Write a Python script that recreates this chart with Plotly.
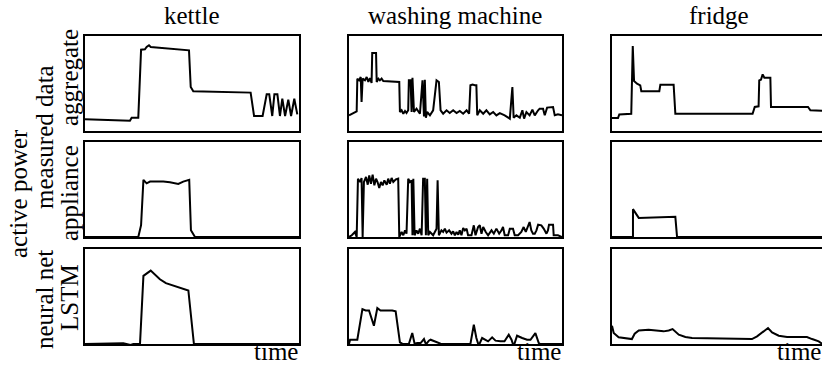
import plotly.graph_objects as go

W, H = 822, 367

col_titles = ["kettle", "washing machine", "fridge"]
row_labels = ["aggregate", "appliance", "LSTM"]
group_labels = ["measured data", "neural net"]
y_title = "active power"
x_title = "time"

# ---- data (time in % of window, power in % of panel range) ----
kettle_agg_t = [0, 21.0, 21.8, 24.9, 26.2, 28.0, 28.8, 29.9, 30.7, 48.6, 49.4, 50.6, 77.4, 79.0, 83.0,
                84.9, 86.1, 87.5, 88.5, 89.9, 91.1, 92.2, 93.5, 95.0, 96.3, 97.8, 99.2]
kettle_agg_p = [12.3, 10.9, 14.0, 14.0, 85.6, 86.0, 88.4, 90.2, 88.4, 84.9, 46.3, 41.8, 40.4, 15.8, 15.8,
                38.6, 38.6, 15.8, 38.6, 38.6, 15.8, 34.0, 15.8, 33.0, 15.8, 34.0, 17.5]

kettle_app_t = [0, 24.9, 26.2, 27.3, 28.8, 30.4, 36.6, 39.7, 43.6, 45.9, 48.7, 49.5, 51.4, 100]
kettle_app_p = [0, 0, 12.4, 60.1, 56.5, 58.3, 58.3, 57.6, 55.8, 58.3, 60.1, 7.1, 0, 0]

kettle_lstm_t = [0, 12.5, 17.9, 21.3, 22.6, 25.7, 27.3, 30.7, 32.7, 35.0, 37.8, 41.3, 48.3, 50.9, 100]
kettle_lstm_p = [0, 0.3, 0.7, -1.0, 0, 0, 71.7, 77.3, 73.4, 68.2, 64.0, 61.5, 56.3, 0, 0]

wm_agg_t = [0, 3.6, 3.9, 4.7, 5.5, 5.9, 6.4, 7.5, 8.3, 9.1, 9.8, 10.6, 10.9, 12.7, 13.0, 13.8, 14.5, 15.3,
            16.1, 23.6, 23.9, 24.7, 25.5, 26.3, 27.0, 27.8, 28.1, 28.9, 29.4, 29.8, 30.5, 31.7, 33.3, 34.5,
            35.2, 35.6, 36.1, 36.7, 38.0, 39.5, 41.1, 42.2, 43.0, 44.2, 45.8, 47.3, 48.9, 50.5, 52.0, 53.6,
            55.2, 56.4, 57.0, 58.0, 59.1, 59.8, 60.2, 61.4, 63.0, 64.5, 66.1, 67.7, 69.2, 70.8, 73.1, 75.5,
            76.7, 77.3, 78.6, 80.2, 81.4, 82.2, 83.3, 84.8, 86.1, 87.2, 88.8, 89.5, 91.1, 91.9, 93.0, 95.8,
            96.6, 98.1, 100]
wm_agg_p = [16.5, 20.7, 55.1, 53.3, 56.8, 30.5, 55.1, 53.3, 56.8, 51.6, 55.8, 50.5, 82.1, 82.1, 51.6, 55.1,
            53.3, 55.1, 52.6, 51.6, 20.0, 21.8, 18.2, 21.1, 18.9, 21.8, 53.3, 53.3, 20.0, 56.1, 20.0, 23.5,
            18.2, 53.3, 15.4, 54.0, 14.0, 20.0, 16.5, 21.8, 53.3, 51.6, 21.8, 18.2, 21.8, 18.9, 21.8, 18.9,
            21.1, 18.2, 21.8, 18.2, 48.1, 48.8, 48.1, 48.1, 16.5, 21.8, 18.2, 21.8, 17.5, 20.0, 16.5, 18.9,
            16.5, 13.0, 46.3, 14.0, 16.5, 14.0, 21.8, 13.0, 20.0, 16.5, 22.5, 16.5, 21.8, 23.5, 23.5, 16.5,
            24.6, 25.3, 16.5, 17.5, 16.5]

wm_app_t = [0, 1.3, 2.8, 3.6, 4.2, 5.2, 5.9, 6.4, 7.0, 8.0, 8.8, 9.5, 10.3, 11.1, 11.9, 12.7, 13.4, 14.2,
            15.0, 15.8, 16.6, 17.7, 18.4, 19.2, 20.0, 20.8, 22.0, 23.1, 23.6, 24.7, 25.5, 26.3, 27.0, 27.8,
            28.6, 29.4, 29.8, 30.2, 30.8, 31.7, 32.5, 33.3, 34.1, 34.8, 35.6, 36.1, 36.7, 37.2, 38.0, 39.5,
            41.1, 41.6, 42.2, 43.4, 44.2, 45.0, 45.8, 47.0, 48.1, 48.9, 49.7, 50.5, 51.3, 52.0, 52.8, 53.6,
            54.4, 55.2, 55.9, 57.5, 58.6, 59.4, 60.6, 61.4, 62.2, 63.0, 64.2, 65.3, 66.9, 68.0, 69.2, 70.5,
            71.6, 72.3, 73.1, 74.7, 75.5, 77.0, 77.8, 79.4, 80.9, 82.0, 83.0, 84.1, 84.8, 85.6, 86.4, 87.2,
            88.0, 88.8, 90.3, 91.4, 92.7, 93.4, 93.9, 95.8, 96.1, 98.1, 100]
wm_app_p = [0, 1.8, 5.3, 0, 61.4, 57.9, 62.1, 0, 57.9, 63.2, 55.1, 64.9, 56.1, 65.6, 54.4, 61.4, 57.9, 51.6,
            57.9, 54.4, 59.6, 55.1, 61.4, 56.1, 62.1, 57.9, 60.7, 61.4, 0, 5.3, 1.8, 7.0, 3.5, 61.4, 57.9,
            59.6, 1.8, 61.4, 1.8, 7.0, 3.5, 8.8, 1.8, 61.4, 61.4, 1.8, 61.4, 1.8, 5.3, 1.8, 8.8, 59.6, 1.8,
            7.0, 5.3, 8.8, 4.6, 7.0, 3.5, 6.0, 1.8, 5.3, 2.5, 7.0, 1.8, 9.5, 7.0, 8.8, 1.8, 1.8, 12.3, 1.8,
            10.5, 12.3, 3.5, 10.5, 5.3, 1.8, 7.0, 3.5, 8.8, 3.5, 7.0, 10.5, 1.8, 1.8, 8.8, 8.8, 1.8, 1.8,
            5.3, 10.5, 5.3, 13.0, 15.8, 7.0, 3.5, 3.5, 7.0, 13.0, 12.3, 8.8, 3.5, 7.0, 13.0, 13.0, 1.8, 1.8, 0]

wm_lstm_t = [0, 0.5, 3.9, 4.7, 6.3, 7.8, 9.4, 11.7, 13.3, 14.8, 17.2, 20.3, 21.9, 23.0, 23.9, 25.0, 27.3,
             28.1, 29.7, 30.8, 32.0, 33.6, 35.2, 35.9, 36.4, 37.5, 38.3, 40.6, 43.0, 57.0, 58.6, 59.8, 60.9,
             62.5, 64.1, 65.3, 67.2, 68.8, 71.1, 73.0, 75.0, 76.3, 77.3, 78.9, 81.3, 83.6, 85.2, 87.5, 89.1,
             89.8, 100]
wm_lstm_p = [0, 4.5, 4.5, 16.8, 36.7, 35.3, 35.3, 19.2, 37.8, 35.3, 35.3, 35.3, 34.3, 16.8, 1.7, 0.3, 0.3,
             0, 11.5, 0.3, 1.0, 1.0, 5.2, 1.0, 0.3, 3.5, 4.5, 2.8, 0.3, 0, 20.3, 6.3, -1.7, 6.3, 4.5, 2.8,
             7.0, 3.5, 2.8, 2.8, 9.8, 4.5, -2.4, 8.7, 6.3, 4.5, 4.5, 11.5, 1.0, 0, 0]

fridge_agg_t = [0, 2.8, 3.4, 9.0, 9.7, 10.3, 11.7, 13.2, 13.7, 22.1, 22.6, 28.8, 29.6, 65.7, 66.7, 68.5,
                68.8, 69.6, 70.4, 71.2, 74.0, 74.3, 91.6, 92.7, 100]
fridge_agg_p = [13.7, 13.7, 17.5, 18.2, 89.5, 52.6, 49.8, 48.1, 41.8, 41.8, 48.8, 48.8, 18.2, 18.2, 25.3,
                26.0, 53.3, 54.0, 59.6, 56.1, 56.1, 25.3, 25.3, 21.8, 21.1]

fridge_app_t = [0, 9.8, 9.8, 12.5, 29.6, 30.4, 100]
fridge_app_p = [0, 0, 29.3, 20.1, 21.2, 0, 0]

fridge_lstm_t = [0, 0.8, 3.1, 9.3, 10.6, 12.5, 17.1, 21.0, 24.1, 26.5, 28.3, 31.2, 34.3, 37.4, 46.7, 57.6,
                 65.4, 67.8, 70.1, 72.9, 74.8, 77.9, 81.8, 91.1, 93.5, 96.6, 98.3]
fridge_lstm_p = [19.2, 11.5, 7.0, 5.2, 10.8, 14.3, 15.0, 14.0, 13.3, 14.3, 15.7, 9.8, 7.3, 6.3, 5.9, 5.2,
                 5.2, 8.0, 12.2, 16.8, 12.2, 8.7, 7.3, 7.3, 5.2, 2.8, 0]

series = [
    [(kettle_agg_t, kettle_agg_p), (wm_agg_t, wm_agg_p), (fridge_agg_t, fridge_agg_p)],
    [(kettle_app_t, kettle_app_p), (wm_app_t, wm_app_p), (fridge_app_t, fridge_app_p)],
    [(kettle_lstm_t, kettle_lstm_p), (wm_lstm_t, wm_lstm_p), (fridge_lstm_t, fridge_lstm_p)],
]

# ---- layout (pixels) ----
col_px = [(85, 299), (349, 562), (612, 822)]
row_px = [(36, 131), (142, 237), (249, 344)]
col3_full_width = 214.0

FONT = "Liberation Serif, Times New Roman, Times, DejaVu Serif, serif"
FS = 25

fig = go.Figure()
layout = dict(
    width=W, height=H,
    margin=dict(l=0, r=0, t=0, b=0),
    paper_bgcolor="white", plot_bgcolor="white",
    showlegend=False,
    font=dict(family=FONT, size=FS, color="black"),
)

idx = 0
for r in range(3):
    for c in range(3):
        idx += 1
        t, p = series[r][c]
        xa = "x" if idx == 1 else f"x{idx}"
        ya = "y" if idx == 1 else f"y{idx}"
        fig.add_trace(go.Scatter(x=t, y=p, mode="lines", xaxis=xa, yaxis=ya,
                                 line=dict(color="black", width=2), hoverinfo="skip"))
        x0, x1 = col_px[c]
        y0, y1 = row_px[r]
        xmax = 100.0 if c < 2 else 100.0 * (x1 - x0) / col3_full_width
        common = dict(showgrid=False, zeroline=False, showticklabels=False, ticks="",
                      showline=True, linecolor="black", linewidth=2)
        layout["xaxis" if idx == 1 else f"xaxis{idx}"] = dict(
            domain=[x0 / W, x1 / W], range=[0, xmax], anchor=ya, mirror=True, **common)
        layout["yaxis" if idx == 1 else f"yaxis{idx}"] = dict(
            domain=[1 - y1 / H, 1 - y0 / H], range=[0, 100], anchor=xa,
            mirror=(c < 2), **common)

ann = []
def A(text, x, y, angle=0, xanchor="center", yanchor="middle"):
    ann.append(dict(text=text, x=x / W, y=1 - y / H, xref="paper", yref="paper",
                    showarrow=False, textangle=angle, xanchor=xanchor, yanchor=yanchor,
                    font=dict(family=FONT, size=FS, color="black")))

for c, title in enumerate(col_titles):
    x0, x1 = col_px[c]
    A(title, (x0 + x1) / 2 if c < 2 else (x0 + x0 + col3_full_width) / 2, 16)
    A(x_title, x1 + 1, 367, xanchor="right", yanchor="bottom")

A(y_title, 18, 194, angle=-90)
A(group_labels[0], 44, 137, angle=-90)
A(group_labels[1], 44, 300, angle=-90)
A(row_labels[0], 69, 78, angle=-90)
A(row_labels[1], 69, 193, angle=-90)
A(row_labels[2], 69, 298, angle=-90)

layout["annotations"] = ann
fig.update_layout(**layout)
fig.write_html("out.html")
